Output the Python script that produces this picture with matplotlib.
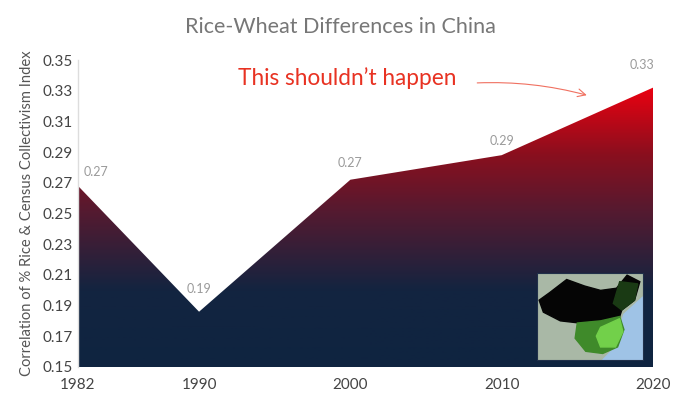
import numpy as np
import matplotlib.pyplot as plt
from matplotlib.colors import LinearSegmentedColormap
from matplotlib.patches import Polygon

years = [1982, 1990, 2000, 2010, 2020]
corr = [0.268, 0.186, 0.272, 0.288, 0.332]
labels = ['0.27', '0.19', '0.27', '0.29', '0.33']
yticks = [0.15, 0.17, 0.19, 0.21, 0.23, 0.25, 0.27, 0.29, 0.31, 0.33, 0.35]

plt.rcParams['font.family'] = ['Lato', 'DejaVu Sans']

fig = plt.figure(figsize=(6.8, 4), dpi=100)
ax = fig.add_axes([0.1147, 0.0825, 0.8456, 0.7675])
ax.set_xlim(1982, 2020)
ax.set_ylim(0.15, 0.35)

# vertical gradient navy -> dark red -> bright red, clipped to the area
cmap = LinearSegmentedColormap.from_list('rw', [
    (0.0, '#0f2440'), (0.27, '#132440'), (0.55, '#551a30'),
    (0.75, '#8a0f1e'), (1.0, '#f00010')])
grad = np.linspace(0, 1, 256).reshape(-1, 1)
img = ax.imshow(grad, cmap=cmap, origin='lower', aspect='auto',
                extent=[1982, 2020, 0.15, 0.335], zorder=1)
verts = [(1982, 0.15)] + list(zip(years, corr)) + [(2020, 0.15)]
poly = Polygon(verts, closed=True, facecolor='none', edgecolor='none')
ax.add_patch(poly)
img.set_clip_path(poly)

for s in ['top', 'right', 'bottom']:
    ax.spines[s].set_visible(False)
ax.spines['left'].set_color('#dddddd')
ax.spines['left'].set_linewidth(1)
ax.set_yticks(yticks)
ax.set_yticklabels(['%.2f' % t for t in yticks])
ax.set_xticks(years)
ax.tick_params(length=0, labelsize=11, colors='#444444')
ax.tick_params(axis='x', pad=8)
ax.tick_params(axis='y', pad=4)
ax.set_ylabel('Correlation of % Rice & Census Collectivism Index',
              fontsize=10.6, color='#555555', labelpad=6)

# value labels
offs = [(4, 6, 'left'), (0, 12, 'center'), (0, 8, 'center'), (0, 6, 'center'), (-8, 12, 'center')]
for x, y, lab, (dx, dy, ha) in zip(years, corr, labels, offs):
    ax.annotate(lab, (x, y), xytext=(dx, dy), textcoords='offset points',
                ha=ha, va='bottom', fontsize=9, color='#9a9a9a')

fig.text(0.5, 0.932, 'Rice-Wheat Differences in China', ha='center', va='center',
         fontsize=15.5, color='#777777')
fig.text(0.35, 0.805, 'This shouldn\u2019t happen', ha='left', va='center',
         fontsize=16.3, color='#e83222')
ax.annotate('', xy=(2015.8, 0.3266), xytext=(2008.2, 0.335),
            arrowprops=dict(arrowstyle='->', color='#f07060', lw=0.8,
                            connectionstyle='arc3,rad=-0.08', mutation_scale=14),
            zorder=5)

# small map inset
m = fig.add_axes([537 / 680, 1 - 360 / 400, 106 / 680, 87 / 400])
m.set_xlim(0, 100)
m.set_ylim(0, 80)
m.set_facecolor('#a9b8a6')
m.add_patch(Polygon([(62, 0), (100, 0), (100, 58), (82, 42), (72, 10)], color='#9fc3e6'))
m.add_patch(Polygon([(2, 55), (12, 62), (28, 74), (45, 68), (60, 64), (75, 66), (85, 78),
                     (97, 72), (92, 55), (80, 46), (78, 40), (60, 36), (40, 34),
                     (22, 36), (6, 44)], color='#050505'))
m.add_patch(Polygon([(78, 72), (95, 70), (92, 55), (80, 46), (72, 52)], color='#1a3a14'))
m.add_patch(Polygon([(38, 34), (60, 36), (78, 40), (82, 28), (76, 12), (62, 6),
                     (46, 8), (36, 20)], color='#3f8a2a'))
m.add_patch(Polygon([(60, 30), (78, 38), (81, 26), (74, 12), (60, 12), (56, 22)],
                    color='#72d04a'))
m.set_xticks([])
m.set_yticks([])
for s in m.spines.values():
    s.set_color('#20304a')

fig.savefig('out.png', dpi=100)
